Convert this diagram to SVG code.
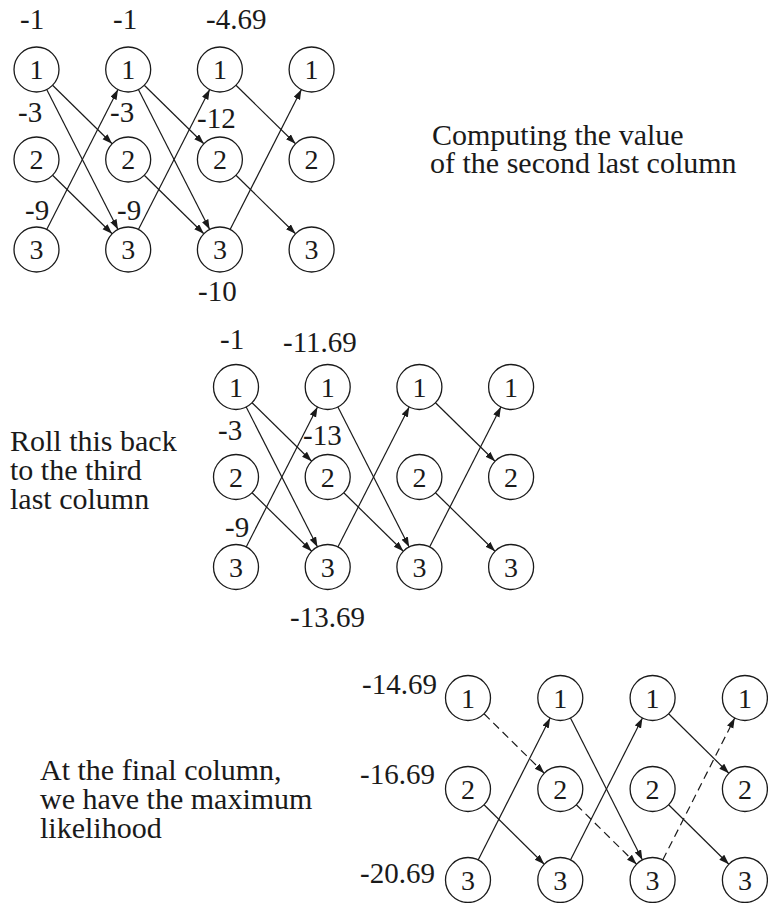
<svg xmlns="http://www.w3.org/2000/svg" width="768" height="903" viewBox="0 0 768 903" font-family="'Liberation Serif', 'Times New Roman', serif">
<style>
.n circle{fill:#fff;stroke:#1a1a1a;stroke-width:1.3}
.n text{font-size:28px;text-anchor:middle;fill:#1a1a1a}
.lb{font-size:29px;fill:#1a1a1a}
.tx{font-size:30px;fill:#1a1a1a}
.e line{stroke:#1a1a1a;stroke-width:1.2;marker-end:url(#ah)}
.e line.d{stroke-dasharray:8 5}
</style>
<defs>
<marker id="ah" markerUnits="userSpaceOnUse" markerWidth="10" markerHeight="8" refX="10" refY="3.5" orient="auto"><path d="M0,0 L10,3.5 L0,7 z" fill="#1a1a1a"/></marker>
</defs>
<rect width="768" height="903" fill="#fff"/>
<g id="connectors">
<g class="e" transform="translate(36.5,69.5)">
<line x1="16.06" y1="15.76" x2="75.64" y2="74.24"/>
<line x1="10.21" y1="20.05" x2="81.49" y2="159.95"/>
<line x1="16.06" y1="105.76" x2="75.64" y2="164.24"/>
<line x1="10.21" y1="159.95" x2="81.49" y2="20.05"/>
<line x1="107.76" y1="15.76" x2="167.34" y2="74.24"/>
<line x1="101.91" y1="20.05" x2="173.19" y2="159.95"/>
<line x1="107.76" y1="105.76" x2="167.34" y2="164.24"/>
<line x1="101.91" y1="159.95" x2="173.19" y2="20.05"/>
<line x1="199.46" y1="15.76" x2="259.04" y2="74.24"/>
<line x1="199.46" y1="105.76" x2="259.04" y2="164.24"/>
<line x1="193.61" y1="159.95" x2="264.89" y2="20.05"/>
</g>
<g class="e" transform="translate(236,387)">
<line x1="16.06" y1="15.76" x2="75.64" y2="74.24"/>
<line x1="10.21" y1="20.05" x2="81.49" y2="159.95"/>
<line x1="16.06" y1="105.76" x2="75.64" y2="164.24"/>
<line x1="10.21" y1="159.95" x2="81.49" y2="20.05"/>
<line x1="101.91" y1="20.05" x2="173.19" y2="159.95"/>
<line x1="107.76" y1="105.76" x2="167.34" y2="164.24"/>
<line x1="101.91" y1="159.95" x2="173.19" y2="20.05"/>
<line x1="199.46" y1="15.76" x2="259.04" y2="74.24"/>
<line x1="199.46" y1="105.76" x2="259.04" y2="164.24"/>
<line x1="193.61" y1="159.95" x2="264.89" y2="20.05"/>
</g>
<g class="e" transform="translate(468,698)">
<line class="d" x1="16.02" y1="15.8" x2="76.28" y2="75.2"/>
<line x1="16.02" y1="106.8" x2="76.28" y2="166.2"/>
<line x1="10.18" y1="161.94" x2="82.12" y2="20.06"/>
<line x1="102.48" y1="20.06" x2="174.42" y2="161.94"/>
<line class="d" x1="108.32" y1="106.8" x2="168.58" y2="166.2"/>
<line x1="102.48" y1="161.94" x2="174.42" y2="20.06"/>
<line x1="200.62" y1="15.8" x2="260.88" y2="75.2"/>
<line x1="200.62" y1="106.8" x2="260.88" y2="166.2"/>
<line class="d" x1="194.78" y1="161.94" x2="266.72" y2="20.06"/>
</g>
</g>
<g id="trellis1" transform="translate(36.5,69.5)">
<g id="a11" class="n"><circle r="22.5"/><text y="9.5">1</text></g>
<g id="a12" class="n" transform="translate(0,90)"><circle r="22.5"/><text y="9.5">2</text></g>
<g id="a13" class="n" transform="translate(0,180)"><circle r="22.5"/><text y="9.5">3</text></g>
<g id="a21" class="n" transform="translate(91.7,0)"><circle r="22.5"/><text y="9.5">1</text></g>
<g id="a22" class="n" transform="translate(91.7,90)"><circle r="22.5"/><text y="9.5">2</text></g>
<g id="a23" class="n" transform="translate(91.7,180)"><circle r="22.5"/><text y="9.5">3</text></g>
<g id="a31" class="n" transform="translate(183.4,0)"><circle r="22.5"/><text y="9.5">1</text></g>
<g id="a32" class="n" transform="translate(183.4,90)"><circle r="22.5"/><text y="9.5">2</text></g>
<g id="a33" class="n" transform="translate(183.4,180)"><circle r="22.5"/><text y="9.5">3</text></g>
<g id="a41" class="n" transform="translate(275.1,0)"><circle r="22.5"/><text y="9.5">1</text></g>
<g id="a42" class="n" transform="translate(275.1,90)"><circle r="22.5"/><text y="9.5">2</text></g>
<g id="a43" class="n" transform="translate(275.1,180)"><circle r="22.5"/><text y="9.5">3</text></g>
</g>
<g id="trellis2" transform="translate(236,387)">
<g id="b11" class="n"><circle r="22.5"/><text y="9.5">1</text></g>
<g id="b12" class="n" transform="translate(0,90)"><circle r="22.5"/><text y="9.5">2</text></g>
<g id="b13" class="n" transform="translate(0,180)"><circle r="22.5"/><text y="9.5">3</text></g>
<g id="b21" class="n" transform="translate(91.7,0)"><circle r="22.5"/><text y="9.5">1</text></g>
<g id="b22" class="n" transform="translate(91.7,90)"><circle r="22.5"/><text y="9.5">2</text></g>
<g id="b23" class="n" transform="translate(91.7,180)"><circle r="22.5"/><text y="9.5">3</text></g>
<g id="b31" class="n" transform="translate(183.4,0)"><circle r="22.5"/><text y="9.5">1</text></g>
<g id="b32" class="n" transform="translate(183.4,90)"><circle r="22.5"/><text y="9.5">2</text></g>
<g id="b33" class="n" transform="translate(183.4,180)"><circle r="22.5"/><text y="9.5">3</text></g>
<g id="b41" class="n" transform="translate(275.1,0)"><circle r="22.5"/><text y="9.5">1</text></g>
<g id="b42" class="n" transform="translate(275.1,90)"><circle r="22.5"/><text y="9.5">2</text></g>
<g id="b43" class="n" transform="translate(275.1,180)"><circle r="22.5"/><text y="9.5">3</text></g>
</g>
<g id="trellis3" transform="translate(468,698)">
<g id="c11" class="n"><circle r="22.5"/><text y="9.5">1</text></g>
<g id="c12" class="n" transform="translate(0,91)"><circle r="22.5"/><text y="9.5">2</text></g>
<g id="c13" class="n" transform="translate(0,182)"><circle r="22.5"/><text y="9.5">3</text></g>
<g id="c21" class="n" transform="translate(92.3,0)"><circle r="22.5"/><text y="9.5">1</text></g>
<g id="c22" class="n" transform="translate(92.3,91)"><circle r="22.5"/><text y="9.5">2</text></g>
<g id="c23" class="n" transform="translate(92.3,182)"><circle r="22.5"/><text y="9.5">3</text></g>
<g id="c31" class="n" transform="translate(184.6,0)"><circle r="22.5"/><text y="9.5">1</text></g>
<g id="c32" class="n" transform="translate(184.6,91)"><circle r="22.5"/><text y="9.5">2</text></g>
<g id="c33" class="n" transform="translate(184.6,182)"><circle r="22.5"/><text y="9.5">3</text></g>
<g id="c41" class="n" transform="translate(276.9,0)"><circle r="22.5"/><text y="9.5">1</text></g>
<g id="c42" class="n" transform="translate(276.9,91)"><circle r="22.5"/><text y="9.5">2</text></g>
<g id="c43" class="n" transform="translate(276.9,182)"><circle r="22.5"/><text y="9.5">3</text></g>
</g>
<g id="labels">
<text class="lb" x="20" y="29">-1</text>
<text class="lb" x="113" y="29">-1</text>
<text class="lb" x="206" y="29">-4.69</text>
<text class="lb" x="18" y="122">-3</text>
<text class="lb" x="110" y="122">-3</text>
<text class="lb" x="197" y="128">-12</text>
<text class="lb" x="25" y="220">-9</text>
<text class="lb" x="117" y="220">-9</text>
<text class="lb" x="198" y="301">-10</text>
<text class="lb" x="220" y="349">-1</text>
<text class="lb" x="283" y="352">-11.69</text>
<text class="lb" x="218" y="440">-3</text>
<text class="lb" x="303" y="445">-13</text>
<text class="lb" x="225" y="537">-9</text>
<text class="lb" x="290" y="627">-13.69</text>
<text class="lb" x="362" y="694">-14.69</text>
<text class="lb" x="360" y="784">-16.69</text>
<text class="lb" x="360" y="883">-20.69</text>
</g>
<g id="notes">
<text class="tx" x="432" y="145">Computing the value</text>
<text class="tx" x="430" y="173">of the second last column</text>
<text class="tx" x="10" y="451">Roll this back</text>
<text class="tx" x="10" y="480">to the third</text>
<text class="tx" x="10" y="509">last column</text>
<text class="tx" x="40" y="780">At the final column,</text>
<text class="tx" x="40" y="809">we have the maximum</text>
<text class="tx" x="40" y="838">likelihood</text>
</g>
</svg>
